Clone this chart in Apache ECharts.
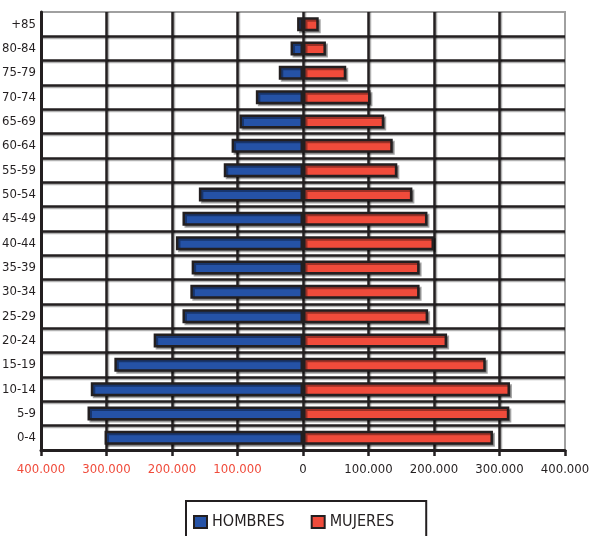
<!DOCTYPE html>
<html>
<head>
<meta charset="utf-8">
<script src="https://cdn.jsdelivr.net/npm/echarts@6/dist/echarts.min.js"></script>
<style>
  html, body { margin: 0; padding: 0; background: #fff; }
  #chart { width: 589px; height: 536px; }
</style>
</head>
<body>
<div id="chart"></div>
<script>
// Grupos de edad (de abajo hacia arriba)
const ageGroups = ['0-4', '5-9', '10-14', '15-19', '20-24', '25-29', '30-34', '35-39', '40-44',
    '45-49', '50-54', '55-59', '60-64', '65-69', '70-74', '75-79', '80-84', '+85'];

// Población por sexo
const hombres = [303000, 329000, 324000, 288000, 228000, 184000, 172000, 170000, 194000,
    184000, 159000, 121000, 109000, 97000, 72000, 37000, 19000, 9000];
const mujeres = [290000, 315000, 316000, 279000, 220000, 191000, 178000, 178000, 200000,
    190000, 167000, 144000, 137000, 124000, 103000, 66000, 35000, 24000];

const xTicks = { min: -400000, max: 400000, interval: 100000 };

const FONT = "'DejaVu Sans Condensed', 'Liberation Sans Narrow', sans-serif";

function fmt(v) {
    return Math.abs(v).toLocaleString('de-DE');
}

const chart = echarts.init(document.getElementById('chart'));

const barStyle = (color) => ({
    color: color,
    borderColor: '#231f20',
    borderWidth: 2.5,
    shadowColor: 'rgba(0,0,0,0.35)',
    shadowOffsetX: 2,
    shadowOffsetY: 2,
    shadowBlur: 0
});

chart.setOption({
    animation: false,
    grid: {
        left: 41, right: 24, top: 12, bottom: 86,
        outerBoundsMode: 'none',
        containLabel: false,
        show: true, borderColor: '#a0a0a0', borderWidth: 2
    },
    legend: {
        left: 186, top: 501,
        padding: [13, 32, 20, 7],
        borderColor: '#231f20', borderWidth: 2,
        itemWidth: 13, itemHeight: 12, itemGap: 26,
        icon: 'rect',
        textStyle: { fontFamily: FONT, fontSize: 16, color: '#231f20' },
        data: ['HOMBRES', 'MUJERES']
    },
    xAxis: {
        type: 'value',
        min: xTicks.min, max: xTicks.max, interval: xTicks.interval,
        axisLine: { show: true, lineStyle: { color: '#231f20', width: 3 } },
        axisTick: { show: true, length: 6, lineStyle: { color: '#231f20', width: 2.5 } },
        axisLabel: {
            formatter: fmt,
            margin: 13,
            fontFamily: FONT, fontSize: 13,
            color: (v) => (v < 0 ? '#f04b3b' : '#231f20')
        },
        splitLine: {
            show: true, showMinLine: false, showMaxLine: false,
            lineStyle: { color: '#231f20', width: 2.5, shadowColor: 'rgba(0,0,0,0.3)', shadowOffsetX: 1.5 }
        }
    },
    yAxis: {
        type: 'category',
        data: ageGroups,
        axisLine: { show: true, onZero: false, lineStyle: { color: '#231f20', width: 3 } },
        axisTick: { show: false },
        axisLabel: { fontFamily: FONT, fontSize: 13, color: '#231f20', margin: 5 },
        splitLine: {
            show: true, showMinLine: false, showMaxLine: false,
            lineStyle: { color: '#231f20', width: 2.5, shadowColor: 'rgba(0,0,0,0.3)', shadowOffsetY: 1.5 }
        }
    },
    series: [
        {
            name: 'HOMBRES', type: 'bar', stack: 'total',
            barWidth: 14,
            data: hombres.map(v => -v),
            itemStyle: barStyle('#2552a6')
        },
        {
            name: 'MUJERES', type: 'bar', stack: 'total',
            barWidth: 14,
            data: mujeres,
            itemStyle: barStyle('#f04b3b')
        }
    ]
});
</script>
</body>
</html>
